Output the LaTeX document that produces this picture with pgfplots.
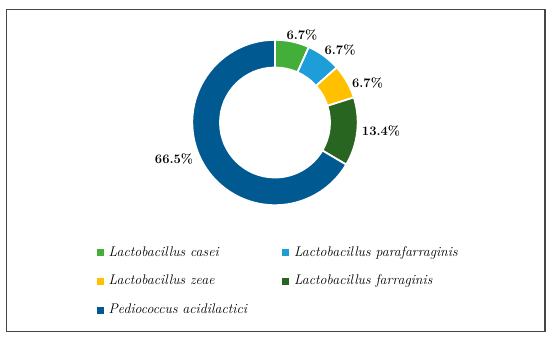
\documentclass[border=0pt]{standalone}
\usepackage{pgfplots}
\usepackage{pgfplotstable}
\pgfplotsset{compat=1.18}
\definecolor{slice0}{RGB}{68,174,58}
\definecolor{slice1}{RGB}{29,158,217}
\definecolor{slice2}{RGB}{255,192,0}
\definecolor{slice3}{RGB}{39,101,32}
\definecolor{slice4}{RGB}{0,90,145}
\definecolor{framecol}{RGB}{70,70,70}

% share = percentage of isolates; lx, ly = label centre (chart units)
\pgfplotstableread{
idx share lx ly
0 6.7 302 302
1 6.7 340 287
2 6.7 367.5 254
3 13.4 381 206
4 66.5 174 178
}\slices

\def\cum{0}
\pgfplotsforeachungrouped \i in {0,...,4}{%
  \pgfplotstablegetelem{\i}{share}\of\slices
  \let\val\pgfplotsretval
  \pgfmathsetmacro\sa{90-3.6*\cum}%
  \pgfmathsetmacro\newcum{\cum+\val}%
  \pgfmathsetmacro\ea{90-3.6*\newcum}%
  \expandafter\xdef\csname sa\i\endcsname{\sa}%
  \expandafter\xdef\csname ea\i\endcsname{\ea}%
  \expandafter\xdef\csname val\i\endcsname{\val}%
  \pgfplotstablegetelem{\i}{lx}\of\slices
  \expandafter\xdef\csname lx\i\endcsname{\pgfplotsretval}%
  \pgfplotstablegetelem{\i}{ly}\of\slices
  \expandafter\xdef\csname ly\i\endcsname{\pgfplotsretval}%
  \xdef\cum{\newcum}%
}

\def\cx{275}
\def\cy{214.5}
\def\rout{82.7bp}
\def\rin{55bp}

\begin{document}
\begin{tikzpicture}
\begin{axis}[
  x=1bp, y=1bp,
  xmin=0, xmax=550, ymin=0, ymax=337,
  hide axis, clip=false,
  anchor=south west, at={(0,0)},
  legend columns=2,
  legend cell align=left,
  legend style={
    draw=none, fill=none,
    at={(axis cs:96.7,91)}, anchor=north west,
    inner sep=0pt, outer sep=0pt,
    row sep=15.7bp,
    /tikz/every odd column/.append style={column sep=5.6bp},
    nodes={inner sep=0pt, text height=10bp, text depth=3bp},
    font=\fontsize{14}{16}\selectfont\itshape,
  },
]
\path (axis cs:0,0) rectangle (axis cs:550,337);
\draw[framecol, line width=1.3bp] (axis cs:6.5,5.5) rectangle (axis cs:545,327.5);

\pgfplotsinvokeforeach{0,...,4}{%
  \fill[slice#1, draw=white, line width=1.8bp, line join=miter]
    (axis cs:\cx,\cy) ++(\csname sa#1\endcsname:\rout)
    arc[start angle=\csname sa#1\endcsname, end angle=\csname ea#1\endcsname, radius=\rout]
    -- ([shift={(\csname ea#1\endcsname:\rin)}]axis cs:\cx,\cy)
    arc[start angle=\csname ea#1\endcsname, end angle=\csname sa#1\endcsname, radius=\rin]
    -- cycle;
  \node[font=\fontsize{13}{15}\selectfont\bfseries, inner sep=0pt]
    at (axis cs:\csname lx#1\endcsname,\csname ly#1\endcsname) {\csname val#1\endcsname\%};
}

\addlegendimage{legend image code/.code={\fill[slice0] (0bp,-3bp) rectangle (6bp,3bp);}}
\addlegendentry{\makebox[173.4bp][l]{Lactobacillus casei}}
\addlegendimage{legend image code/.code={\fill[slice1] (0bp,-3bp) rectangle (6bp,3bp);}}
\addlegendentry{\makebox[173.4bp][l]{Lactobacillus parafarraginis}}
\addlegendimage{legend image code/.code={\fill[slice2] (0bp,-3bp) rectangle (6bp,3bp);}}
\addlegendentry{\makebox[173.4bp][l]{Lactobacillus zeae}}
\addlegendimage{legend image code/.code={\fill[slice3] (0bp,-3bp) rectangle (6bp,3bp);}}
\addlegendentry{\makebox[173.4bp][l]{Lactobacillus farraginis}}
\addlegendimage{legend image code/.code={\fill[slice4] (0bp,-3bp) rectangle (6bp,3bp);}}
\addlegendentry{\makebox[173.4bp][l]{Pediococcus acidilactici}}
\end{axis}
\end{tikzpicture}
\end{document}
